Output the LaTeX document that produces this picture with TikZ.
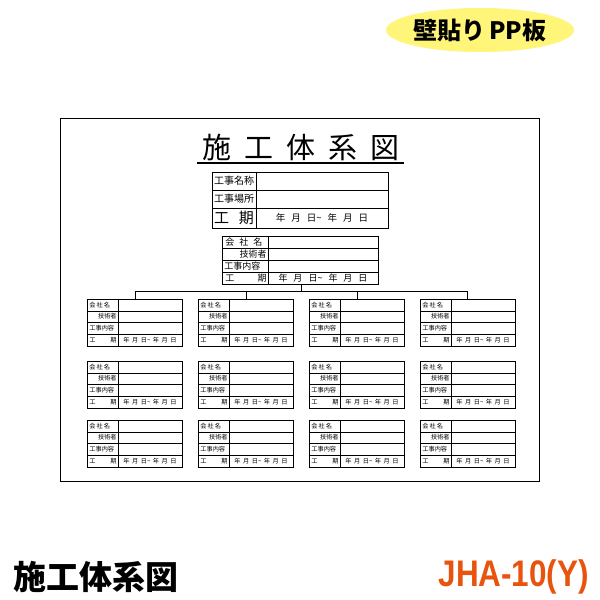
\documentclass[tikz,border=0pt]{standalone}
\usepackage{fontspec}
\newfontfamily\jp{Noto Sans CJK JP}
\setmainfont{Liberation Sans}
\usetikzlibrary{shapes.geometric}
\newcommand\cbox[5]{% x y w labelw fontsize
 \begin{scope}[shift={(#1,#2)}]
  \node[draw,thin,minimum width=#3pt,minimum height=47pt,anchor=north west,inner sep=0] (b#1#2) at (0,0) {};
  \foreach \r in {1,2,3} \draw[thin] (0,\r*11.75) -- (#3,\r*11.75);
  \draw[thin] (#4,0) -- (#4,47);
  \node[anchor=west,font=\jp\fontsize{#5}{#5}\selectfont,inner sep=1pt] at (1,5.9) {会\,社\,名};
  \node[anchor=east,font=\jp\fontsize{#5}{#5}\selectfont,inner sep=1pt] at (#4,17.6) {技術者};
  \node[anchor=west,font=\jp\fontsize{#5}{#5}\selectfont,inner sep=1pt] at (1,29.4) {工事内容};
  \node[anchor=west,font=\jp\fontsize{#5}{#5}\selectfont,inner sep=1pt] at (1,41.1) {工};
  \node[anchor=east,font=\jp\fontsize{#5}{#5}\selectfont,inner sep=1pt] at (#4,41.1) {期};
  \node[font=\jp\fontsize{#5}{#5}\selectfont,inner sep=0] at ({(#4+#3)/2},41.1) {年\hspace{2.5pt}月\hspace{2.5pt}日\textasciitilde\hspace{2.5pt}年\hspace{2.5pt}月\hspace{2.5pt}日};
 \end{scope}}
\begin{document}
\begin{tikzpicture}[x=1pt,y=-1pt,line width=0.7pt]
\useasboundingbox (0,0) rectangle (600,600);
\fill[white] (0,0) rectangle (600,600);
\node[ellipse,fill={rgb,255:red,255;green,245;blue,120},minimum width=188pt,minimum height=44pt,inner sep=0] (badge) at (480,30) {};
\node[font=\jp\bfseries\fontsize{24}{24}\selectfont] (badgetxt) at (480,30) {壁貼り\,PP板};
\draw[line width=0.8pt] (60,118) rectangle (539,481);
\node[font=\jp\fontsize{29}{29}\selectfont] (title) at (301,147) {施\hspace{13pt}工\hspace{13pt}体\hspace{13pt}系\hspace{13pt}図};
\draw[line width=1.3pt] (197,163) -- (404,163);
% top table
\draw (212,172) rectangle (388,228);
\draw (212,190) -- (388,190); \draw (212,208) -- (388,208); \draw (256,172) -- (256,228);
\node[font=\jp\fontsize{10}{10}\selectfont] at (234,181) {工事名称};
\node[font=\jp\fontsize{10}{10}\selectfont] at (234,199) {工事場所};
\node[font=\jp\fontsize{15}{15}\selectfont] at (234,218) {工\hspace{10pt}期};
\node[font=\jp\fontsize{9.5}{9.5}\selectfont] at (322,218) {年\hspace{6pt}月\hspace{6pt}日\textasciitilde\hspace{6pt}年\hspace{6pt}月\hspace{6pt}日};
% main box
\begin{scope}[shift={(222,236)}]
 \draw (0,0) rectangle (156,48);
 \foreach \r in {1,2,3} \draw (0,\r*12) -- (156,\r*12);
 \draw (46,0) -- (46,48);
 \node[anchor=west,font=\jp\fontsize{9}{9}\selectfont,inner sep=1pt] at (2,6) {会\hspace{5pt}社\hspace{5pt}名};
 \node[anchor=east,font=\jp\fontsize{9}{9}\selectfont,inner sep=1pt] at (46,18) {技術者};
 \node[anchor=west,font=\jp\fontsize{9}{9}\selectfont,inner sep=1pt] at (1,30) {工事内容};
 \node[anchor=west,font=\jp\fontsize{9}{9}\selectfont,inner sep=1pt] at (2,42) {工};
 \node[anchor=east,font=\jp\fontsize{9}{9}\selectfont,inner sep=1pt] at (46,42) {期};
 \node[font=\jp\fontsize{9}{9}\selectfont,inner sep=0] at (101,42) {年\hspace{6pt}月\hspace{6pt}日\textasciitilde\hspace{6pt}年\hspace{6pt}月\hspace{6pt}日};
\end{scope}
\coordinate (m) at (301,284);
\draw[thin] (m) -- (301,291);
\draw[thin] (135,291) -- (467,291);
\foreach \xx in {135,246,357,467} \draw[thin] (\xx,291) -- (\xx,299);
\foreach \yy in {299,361,420}{
 \foreach \xx in {87,198,309,420}{\cbox{\xx}{\yy}{95}{31}{6.2}}}
\node[font=\jp\bfseries\fontsize{33}{33}\selectfont,anchor=west] (bl) at (10,577) {施工体系図};
\node[font=\bfseries\fontsize{37}{37}\selectfont,text={rgb,255:red,232;green,83;blue,14},anchor=east,xscale=0.85] (jha) at (592,577) {JHA-10(Y)};
\end{tikzpicture}
\end{document}
